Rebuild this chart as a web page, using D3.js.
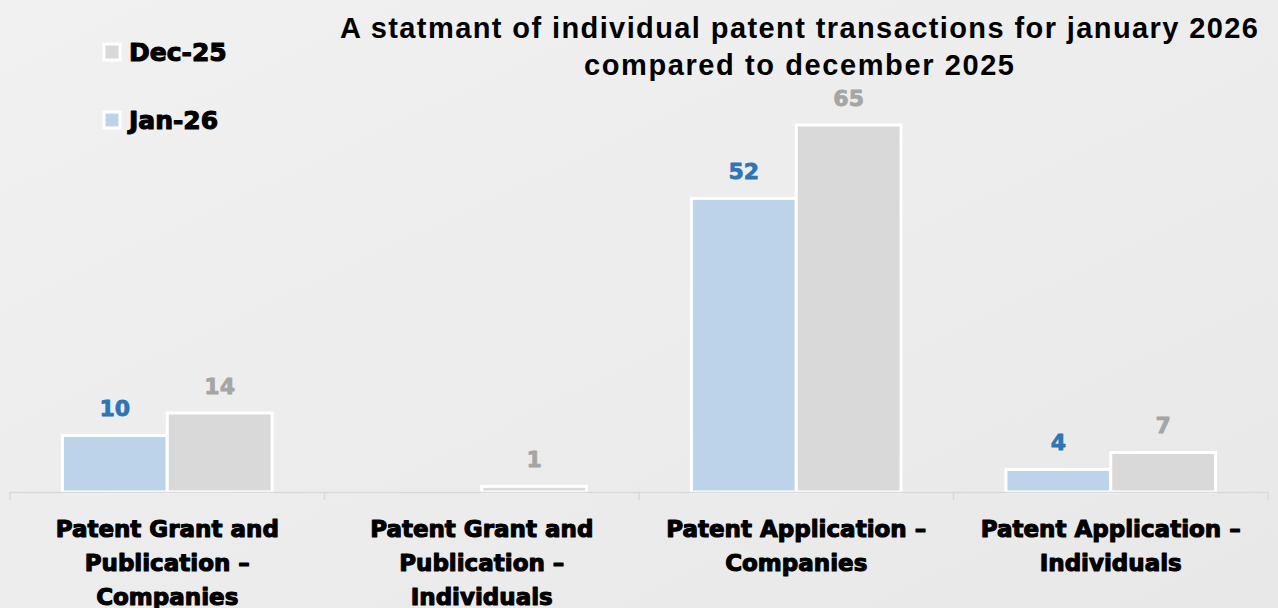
<!DOCTYPE html>
<html>
<head>
<meta charset="utf-8">
<script src="https://d3js.org/d3.v7.min.js"></script>
<style>
  body { margin: 0; background: #eeeeee; }
  svg { display: block; }
  .heavy { font-family: "DejaVu Sans", "Liberation Sans", Arial, sans-serif; font-weight: bold; paint-order: stroke; stroke-linejoin: round; }
  .title { font-family: "Liberation Sans", Arial, sans-serif; font-weight: bold; }
</style>
</head>
<body>
<script>
// chart data
var categories = [
  ["Patent Grant and", "Publication \u2013", "Companies"],
  ["Patent Grant and", "Publication \u2013", "Individuals"],
  ["Patent Application \u2013", "Companies"],
  ["Patent Application \u2013", "Individuals"]
];
var seriesNames = ["Jan-26", "Dec-25"];
var jan26 = [10, 0, 52, 4];
var dec25 = [14, 1, 65, 7];
var titleLines = ["A statmant of individual patent transactions for january 2026", "compared to december 2025"];

var w = 1278, h = 608;
var fill = { "Jan-26": "#bdd3e9", "Dec-25": "#d9d9d9" };
var labelColor = { "Jan-26": "#2e75b6", "Dec-25": "#a5a5a5" };

var svg = d3.select("body").append("svg").attr("width", w).attr("height", h);

// background
var defs = svg.append("defs");
var grad = defs.append("linearGradient").attr("id", "bg").attr("x1", 0).attr("x2", 1).attr("y1", 0).attr("y2", 1);
grad.append("stop").attr("offset", "0%").attr("stop-color", "#f1f1f1");
grad.append("stop").attr("offset", "100%").attr("stop-color", "#e8e8e8");
svg.append("rect").attr("width", w).attr("height", h).attr("fill", "url(#bg)");

var margin = { left: 10, right: 10 };
var baseY = 492;

var x = d3.scaleBand()
  .domain(d3.range(categories.length))
  .range([margin.left, w - margin.right])
  .paddingInner(0).paddingOuter(0);

var x1 = d3.scaleBand()
  .domain(seriesNames)
  .range([0, x.bandwidth()])
  .paddingInner(0).paddingOuter(0.5);

var y = d3.scaleLinear().domain([0, 65]).range([baseY, 125]);

var data = categories.map(function(c, i) {
  return { i: i, vals: [{ s: "Jan-26", v: jan26[i] }, { s: "Dec-25", v: dec25[i] }] };
});

var groups = svg.selectAll("g.cat").data(data).enter().append("g")
  .attr("class", "cat")
  .attr("transform", function(d) { return "translate(" + x(d.i) + ",0)"; });

groups.selectAll("rect").data(function(d) { return d.vals.filter(function(e) { return e.v > 0; }); })
  .enter().append("rect")
  .attr("x", function(d) { return x1(d.s); })
  .attr("width", x1.bandwidth())
  .attr("y", function(d) { return y(d.v); })
  .attr("height", function(d) { return baseY - y(d.v); })
  .attr("fill", function(d) { return fill[d.s]; })
  .attr("stroke", "#ffffff")
  .attr("stroke-width", 3);

groups.selectAll("text.val").data(function(d) { return d.vals.filter(function(e) { return e.v > 0; }); })
  .enter().append("text")
  .attr("class", "val heavy")
  .attr("x", function(d) { return x1(d.s) + x1.bandwidth() / 2; })
  .attr("y", function(d) { return y(d.v) - 27; })
  .attr("dy", "0.35em")
  .attr("text-anchor", "middle")
  .attr("fill", function(d) { return labelColor[d.s]; })
  .attr("stroke", function(d) { return labelColor[d.s]; })
  .attr("stroke-width", 0.8)
  .style("font-size", "22px")
  .text(function(d) { return d.v; });

// axis
var axis = svg.append("g")
  .attr("transform", "translate(0," + baseY + ")")
  .call(d3.axisBottom(x).tickValues([]).tickSizeOuter(0));
axis.select(".domain").attr("stroke", "#d9d9d9").attr("stroke-width", 1.5);
var bounds = d3.range(categories.length + 1).map(function(i) { return margin.left + i * x.bandwidth(); });
axis.selectAll("line.bound").data(bounds).enter().append("line")
  .attr("class", "bound")
  .attr("x1", function(d) { return d; }).attr("x2", function(d) { return d; })
  .attr("y1", 0).attr("y2", 8)
  .attr("stroke", "#d9d9d9").attr("stroke-width", 1.5);

// category labels
var catLabels = svg.selectAll("text.cat").data(categories).enter().append("text")
  .attr("class", "cat heavy")
  .attr("text-anchor", "middle")
  .attr("fill", "#000")
  .attr("stroke", "#000")
  .attr("stroke-width", 1.1)
  .style("font-size", "23px");
catLabels.each(function(lines, i) {
  var t = d3.select(this);
  lines.forEach(function(line, k) {
    t.append("tspan")
      .attr("x", x(i) + x.bandwidth() / 2)
      .attr("y", 529 + k * 34)
      .attr("dy", "0.35em")
      .text(line);
  });
});

// title
var titleWidths = [918, 430];
svg.append("text")
  .attr("class", "title")
  .attr("text-anchor", "middle")
  .attr("fill", "#000")
  .style("font-size", "29px")
  .selectAll("tspan").data(titleLines).enter().append("tspan")
  .attr("x", 799)
  .attr("y", function(d, k) { return 28 + k * 37; })
  .attr("dy", "0.35em")
  .attr("textLength", function(d, k) { return titleWidths[k]; })
  .attr("lengthAdjust", "spacing")
  .text(function(d) { return d; });

// legend
var legendItems = ["Dec-25", "Jan-26"];
var lg = svg.selectAll("g.legend").data(legendItems).enter().append("g")
  .attr("class", "legend")
  .attr("transform", function(d, k) { return "translate(104," + (52 + k * 68) + ")"; });
lg.append("rect")
  .attr("x", 0).attr("y", -8).attr("width", 16).attr("height", 16)
  .attr("fill", function(d) { return fill[d]; })
  .attr("stroke", "#fff").attr("stroke-width", 3);
lg.append("text")
  .attr("class", "heavy")
  .attr("x", 25).attr("y", 0).attr("dy", "0.35em")
  .attr("fill", "#000").attr("stroke", "#000").attr("stroke-width", 1.1)
  .style("font-size", "25px")
  .text(function(d) { return d; });
</script>
</body>
</html>
